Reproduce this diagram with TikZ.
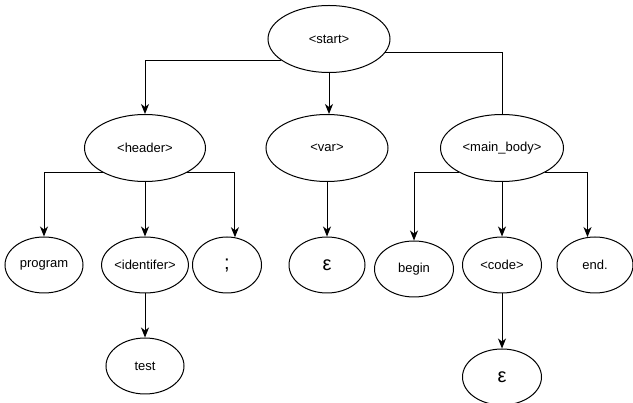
\documentclass[tikz,border=0pt]{standalone}
\usepackage{fontspec}
\setmainfont{Liberation Sans}
\usetikzlibrary{shapes.geometric,arrows.meta}
\begin{document}
\begin{tikzpicture}[x=1pt,y=-1pt,
  nt/.style={ellipse,draw,line width=1pt,inner sep=0pt,minimum width=122pt,minimum height=67pt,font=\fontsize{13}{13}\selectfont},
  lf/.style={ellipse,draw,line width=1pt,inner sep=0pt,minimum width=78pt,minimum height=56pt,font=\fontsize{13}{13}\selectfont},
  big/.style={font=\fontsize{20}{20}\selectfont},
  arr/.style={line width=1pt,-{Stealth[length=10pt,width=8pt,inset=3pt]}},
  ln/.style={line width=1pt}]
\useasboundingbox (0,0) rectangle (633,403);
\node[nt] (start) at (329,39) {<start>};
\node[nt,minimum width=121pt] (header) at (145,148) {<header>};
\node[nt] (var) at (327,148) {<var>};
\node[nt,minimum width=123pt] (mainb) at (502,148) {<main\_body>};
\node[lf] (program) at (44,265) {program};
\node[lf] (ident) at (145,265) {<identifer>};
\node[lf,minimum width=69pt,big] (semi) at (227,265) {;};
\node[lf,minimum width=76pt,big] (eps1) at (327,265) {ε};
\node[lf,minimum width=79pt] (begin) at (414,269) {begin};
\node[lf,minimum width=79pt] (code) at (502,265) {<code>};
\node[lf,minimum width=76pt] (endn) at (595,265) {end.};
\node[lf] (test) at (145,366) {test};
\node[lf,minimum width=79pt,big] (eps2) at (502,377) {ε};
\draw[arr] (start.204) -| (header.north);
\draw[arr] (start.south) -- (start.south |- var.north);
\draw[ln] (start.-14) -| (mainb.north);
\draw[arr] (header.-150) -| (program.north);
\draw[arr] (header.south) -- (ident.north);
\draw[arr] (header.-30) -| (semi.74);
\draw[arr] (var.south) -- (eps1.north);
\draw[arr] (ident.south) -- (test.north);
\draw[arr] (mainb.-150) -| (begin.north);
\draw[arr] (mainb.south) -- (code.north);
\draw[arr] (mainb.-30) -| (endn.105);
\draw[arr] (code.south) -- (eps2.north);
\end{tikzpicture}
\end{document}
